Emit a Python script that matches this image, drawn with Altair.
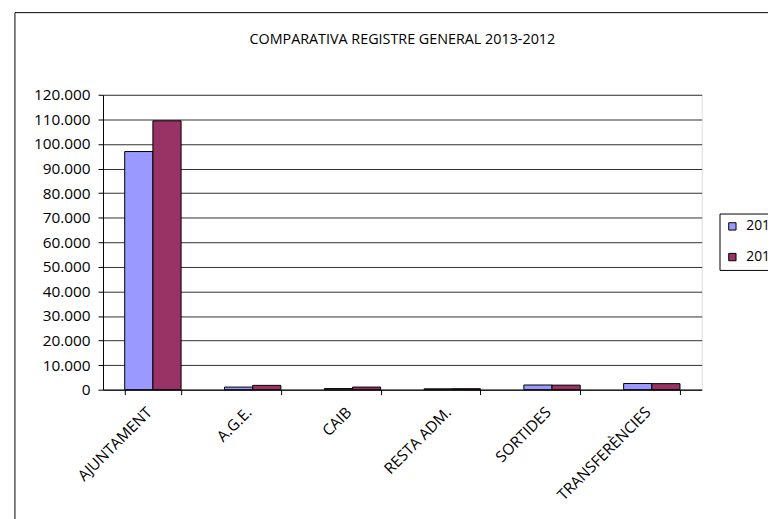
import altair as alt
import pandas as pd

categories = ["AJUNTAMENT", "A.G.E.", "CAIB", "RESTA ADM.", "SORTIDES", "TRANSFERÈNCIES"]
values_2013 = [96900, 1050, 450, 350, 1900, 2500]
values_2012 = [109400, 1750, 1050, 400, 1850, 2450]
years = ["2013", "2012"]
colors = ["#9999FF", "#993366"]
y_ticks = list(range(0, 120001, 10000))

rows = []
for c, a, b in zip(categories, values_2013, values_2012):
    rows.append({"cat": c, "year": "2013", "value": a})
    rows.append({"cat": c, "year": "2012", "value": b})
df = pd.DataFrame(rows)

FONT = "Open Sans"
FS = 15.5

bars = alt.Chart(df).mark_bar(stroke="black", strokeWidth=1).encode(
    x=alt.X("cat:N", sort=categories, title=None,
            scale=alt.Scale(paddingInner=0.435, paddingOuter=0.2175),
            axis=alt.Axis(labelAngle=-45, tickBand="extent", tickSize=5,
                          tickColor="black", domainColor="black",
                          labelFont=FONT, labelFontSize=FS, labelColor="black",
                          labelPadding=10, labelOffset=-9, grid=False)),
    xOffset=alt.XOffset("year:N", sort=years, scale=alt.Scale(paddingInner=0, paddingOuter=0)),
    y=alt.Y("value:Q", title=None,
            scale=alt.Scale(domain=[0, 120000], nice=False),
            axis=alt.Axis(values=y_ticks,
                          labelExpr="replace(format(datum.value, ',d'), ',', '.')",
                          tickSize=5, tickColor="black", domainColor="black",
                          labelFont=FONT, labelFontSize=FS, labelColor="black",
                          labelPadding=8, grid=True, gridColor="#303030",
                          gridOpacity=1, gridWidth=1)),
    color=alt.Color("year:N", sort=years,
                    scale=alt.Scale(domain=years, range=colors),
                    legend=alt.Legend(title=None, orient="none", legendX=623, legendY=120,
                                      symbolType="square", symbolSize=55,
                                      symbolStrokeColor="black", symbolStrokeWidth=1,
                                      labelFont=FONT, labelFontSize=14, labelColor="black",
                                      strokeColor="black", fillColor="white",
                                      padding=6, rowPadding=17, labelOffset=7)),
)

frame = alt.Chart(pd.DataFrame({"a": [0]})).mark_rect(
    fill="white", fillOpacity=0, stroke="black", strokeWidth=1
).encode(
    x=alt.value(-89), x2=alt.value(800),
    y=alt.value(-83), y2=alt.value(600),
)

chart = alt.layer(frame, bars).properties(
    width=605, height=298,
    title=alt.TitleParams("COMPARATIVA REGISTRE GENERAL 2013-2012", font=FONT,
                          fontSize=14.5, fontWeight="normal", color="black",
                          anchor="middle", offset=-36),
    padding={"left": 96, "top": 85, "right": 67, "bottom": 128},
    autosize=alt.AutoSizeParams(type="none"),
).configure_view(
    fill="#C0C0C0", stroke="#808080", strokeWidth=1
).configure(background="white")

chart.save("out.html", embed_options={"renderer": "svg", "actions": False})
